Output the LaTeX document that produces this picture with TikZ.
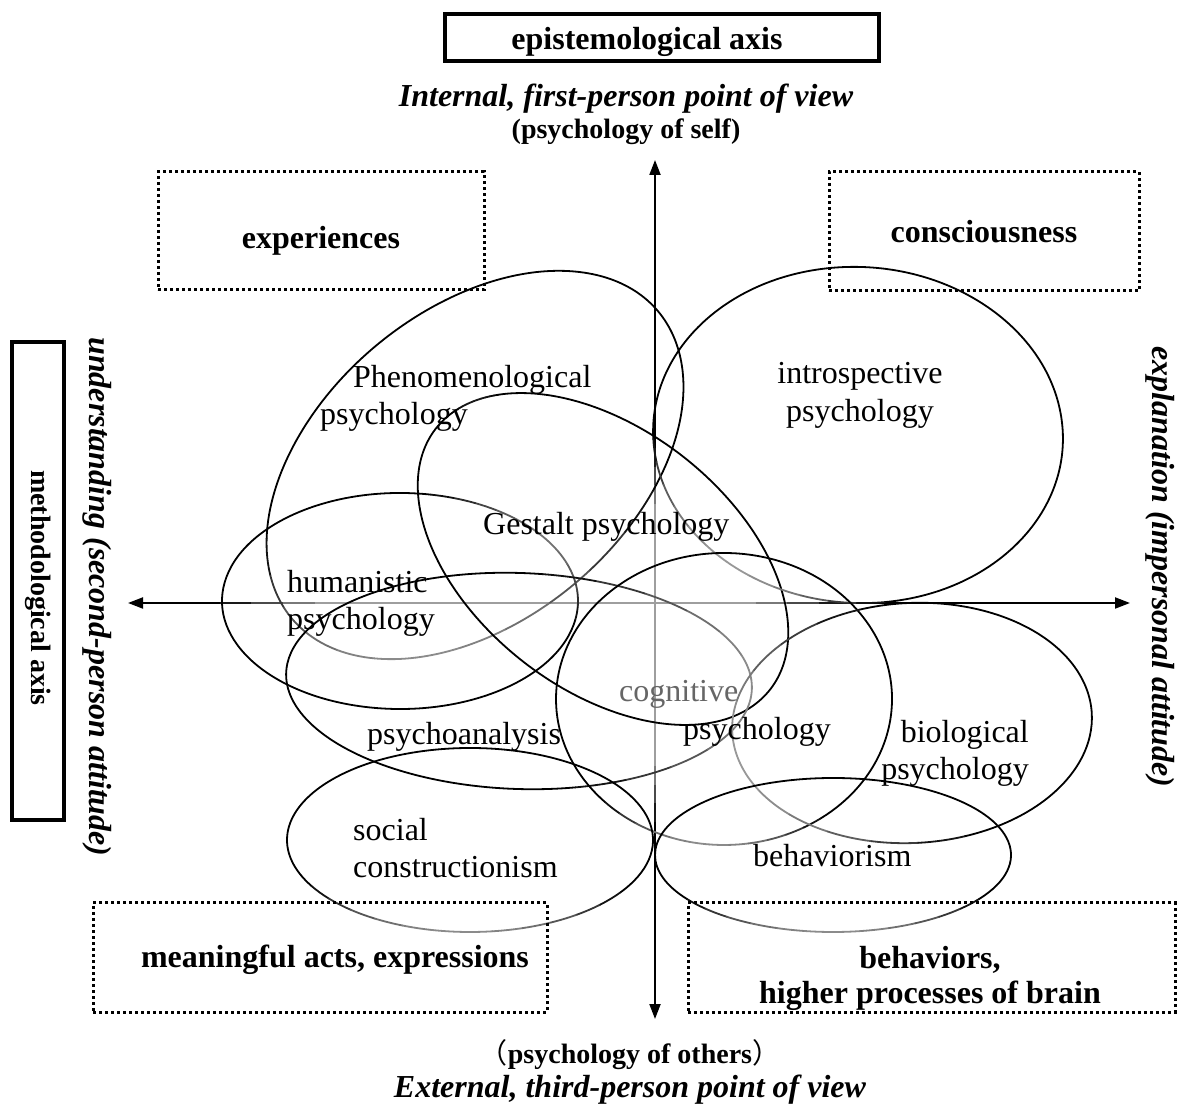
\documentclass[tikz,border=0pt]{standalone}
\usepackage{fontspec}
\setmainfont{Liberation Serif}
\newfontfamily\cjk{Noto Sans CJK JP}
\usetikzlibrary{arrows.meta,calc}
\newcommand\myell[8]{%
 \begin{scope}[shift={(#1,#2)}, rotate=#5]
  \draw[ell] (#7:#3 and #4) arc[start angle=#7, end angle=#6+360, x radius=#3, y radius=#4];
  \foreach \k in {0,...,11}{
    \pgfmathsetmacro\sa{#6+\k*(#7-#6)/12}
    \pgfmathsetmacro\ea{#6+(\k+1)*(#7-#6)/12}
    \pgfmathsetmacro\pc{100-(100-#8)*sin(180*(\k+0.5)/12)}
    \draw[ell, draw=black!\pc] (\sa:#3 and #4) arc[start angle=\sa, end angle=\ea, x radius=#3, y radius=#4];
  }
 \end{scope}}
\begin{document}
\begin{tikzpicture}[x=1pt,y=1pt,
  lbl/.style={font=\fontsize{32}{37}\selectfont, inner sep=0pt},
  blbl/.style={font=\fontsize{32}{37}\selectfont\bfseries, inner sep=0pt},
  bilbl/.style={font=\fontsize{32}{37}\selectfont\bfseries\itshape, inner sep=0pt},
  smb/.style={font=\fontsize{28}{33}\selectfont\bfseries, inner sep=0pt},
  dotbox/.style={draw, line width=3pt, dash pattern=on 3pt off 3pt, inner sep=0pt},
  solidbox/.style={draw, line width=3.2pt, inner sep=0pt},
  axisline/.style={line width=2pt, {Triangle[length=15pt,width=11pt]}-{Triangle[length=15pt,width=11pt]}},
  ell/.style={line width=1.8pt, line cap=round}
]
\useasboundingbox (0,0) rectangle (1182,1108);
\fill[white] (0,0) rectangle (1182,1108);

% axes
\coordinate (hl) at (128,505);
\coordinate (hr) at (1130,505);
\coordinate (vt) at (655,948);
\coordinate (vb) at (655,89);
\draw[axisline] (hl) -- (hr);
\draw[axisline] (vb) -- (vt);
\coordinate (hg1) at (220,505);
\coordinate (hg2) at (850,505);
\coordinate (vg1) at (655,660);
\coordinate (vg2) at (655,286);
\foreach \k in {0,...,19}{
  \pgfmathsetmacro\pc{100-62*min(1,2*sin(180*(\k+0.5)/20))}
  \pgfmathsetmacro\fa{\k/20}
  \pgfmathsetmacro\fb{(\k+1)/20}
  \draw[line width=2pt, draw=black!\pc] ($(hg1)!\fa!(hg2)$) -- ($(hg1)!\fb!(hg2)$);
  \draw[line width=2pt, draw=black!\pc] ($(vg1)!\fa!(vg2)$) -- ($(vg1)!\fb!(vg2)$);
}

% ellipses
\myell{475}{643}{239}{155}{40}{150}{300}{45}
\myell{603}{549}{212}{130}{-38}{150}{170}{90}
\myell{858}{673}{205}{168}{-3}{185}{280}{40}
\myell{400}{507}{178}{108}{0}{-10}{80}{55}
\myell{519}{427}{233}{108}{-2}{-75}{85}{45}
\myell{724}{409}{168}{146}{0}{225}{305}{45}
\myell{912}{385}{180}{120}{3}{105}{285}{40}
\myell{833}{253}{178}{77}{0}{215}{325}{45}
\myell{470}{268}{183}{92}{0}{210}{325}{45}

% boxes
\node[solidbox, minimum width=434pt, minimum height=47pt] (epibox) at (662,1070.5) {};
\node[blbl, anchor=base] (epitxt) at (647,1058) {epistemological axis};
\node[solidbox, minimum width=52pt, minimum height=478pt] (methbox) at (38,527) {};
\node[smb, rotate=-90] (methtxt) at (38,520) {methodological axis};

\node[dotbox, minimum width=326pt, minimum height=118pt] (expbox) at (321,877) {};
\node[blbl, anchor=base] (exptxt) at (321,859) {experiences};
\node[dotbox, minimum width=310pt, minimum height=119pt] (conbox) at (984,876.5) {};
\node[blbl, anchor=base] (contxt) at (984,865) {consciousness};
\node[dotbox, minimum width=454pt, minimum height=109pt] (meabox) at (320,150.5) {};
\node[blbl, anchor=base] (meatxt) at (335,141) {meaningful acts, expressions};
\node[dotbox, minimum width=487pt, minimum height=109pt] (behbox) at (931.5,150.5) {};
\node[blbl, anchor=base] (behtxt1) at (930,140) {behaviors,};
\node[blbl, anchor=base] (behtxt2) at (930,105) {higher processes of brain};

% axis labels
\node[bilbl, anchor=base] (intl) at (626,1001) {Internal, first-person point of view};
\node[smb, anchor=base] (self) at (626,969) {(psychology of self)};
\node[smb, anchor=base] (others) at (630,45) {{\cjk\mdseries （}psychology of others{\cjk\mdseries ）}};
\node[bilbl, anchor=base] (extl) at (630,11) {External, third-person point of view};
\node[bilbl, rotate=-90] (und) at (97,511) {understanding (second-person attitude)};
\node[bilbl, rotate=-90] (expl) at (1160,541) {explanation (impersonal attitude)};

% ellipse labels
\node[lbl, anchor=base west] (ph1) at (353,720) {Phenomenological};
\node[lbl, anchor=base west] (ph2) at (320,683) {psychology};
\node[lbl, anchor=base west] (ge) at (483,573) {Gestalt psychology};
\node[lbl, anchor=base] (in1) at (860,724) {introspective};
\node[lbl, anchor=base] (in2) at (860,686) {psychology};
\node[lbl, anchor=base west] (hu1) at (287,515) {humanistic};
\node[lbl, anchor=base west] (hu2) at (287,478) {psychology};
\node[lbl, anchor=base west] (pa) at (367,363) {psychoanalysis};
\node[lbl, anchor=base west, text=black!60] (co1) at (619,406) {cognitive};
\node[lbl, anchor=base west] (co2) at (683,368) {psychology};
\node[lbl, anchor=base east] (bi1) at (1029,365) {biological};
\node[lbl, anchor=base east] (bi2) at (1029,328) {psychology};
\node[lbl, anchor=base west] (be) at (753,241) {behaviorism};
\node[lbl, anchor=base west] (so1) at (353,267) {social};
\node[lbl, anchor=base west] (so2) at (353,230) {constructionism};
\end{tikzpicture}
\end{document}
